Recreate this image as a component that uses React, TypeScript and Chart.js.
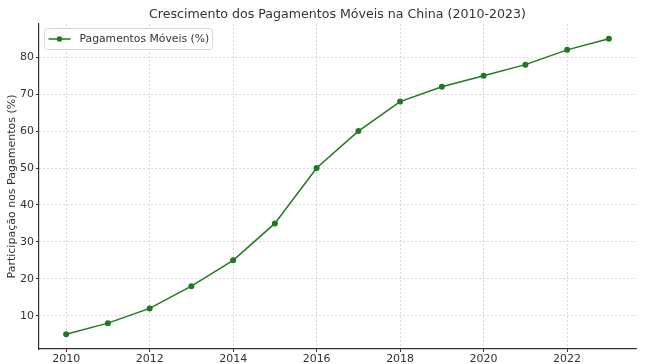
import React, { useEffect, useRef } from "react";
import { Chart, registerables } from "chart.js";

Chart.register(...registerables);

const years = [2010, 2011, 2012, 2013, 2014, 2015, 2016, 2017, 2018, 2019, 2020, 2021, 2022, 2023];
const shares = [5, 8, 12, 18, 25, 35, 50, 60, 68, 72, 75, 78, 82, 85];
const xTicks = [2010, 2012, 2014, 2016, 2018, 2020, 2022];
const yTicks = [10, 20, 30, 40, 50, 60, 70, 80];
const titleText = "Crescimento dos Pagamentos Móveis na China (2010-2023)";
const yAxisLabel = "Participação nos Pagamentos (%)";
const seriesLabel = "Pagamentos Móveis (%)";

const FONT = "'DejaVu Sans', sans-serif";
const GREEN = "#1f7a1f";

export default function App() {
  const ref = useRef<HTMLCanvasElement | null>(null);

  useEffect(() => {
    document.body.style.margin = "0";
    const canvas = ref.current;
    if (!canvas) return;

    const overlay = {
      id: "overlay",
      afterDraw(chart: any) {
        const ctx = chart.ctx;
        const area = chart.chartArea;
        ctx.save();
        // title
        ctx.fillStyle = "#333333";
        ctx.font = `12.6px ${FONT}`;
        ctx.textAlign = "center";
        ctx.textBaseline = "middle";
        ctx.fillText(titleText, (area.left + area.right) / 2, 14.5);
        // y label
        ctx.save();
        ctx.translate(12, (area.top + area.bottom) / 2);
        ctx.rotate(-Math.PI / 2);
        ctx.font = `11px ${FONT}`;
        ctx.fillText(yAxisLabel, 0, 0);
        ctx.restore();
        // legend
        const lx = 44.5, ly = 28.5, lw = 168, lh = 21;
        ctx.fillStyle = "rgba(255,255,255,0.85)";
        ctx.strokeStyle = "#d6d6d6";
        ctx.lineWidth = 1;
        ctx.beginPath();
        (ctx as any).roundRect(lx, ly, lw, lh, 3);
        ctx.fill();
        ctx.stroke();
        const cy = ly + lh / 2;
        ctx.strokeStyle = GREEN;
        ctx.lineWidth = 1.5;
        ctx.beginPath();
        ctx.moveTo(lx + 4, cy);
        ctx.lineTo(lx + 26, cy);
        ctx.stroke();
        ctx.fillStyle = GREEN;
        ctx.beginPath();
        ctx.arc(lx + 15, cy, 2.8, 0, Math.PI * 2);
        ctx.fill();
        ctx.fillStyle = "#333333";
        ctx.font = `10.8px ${FONT}`;
        ctx.textAlign = "left";
        ctx.fillText(seriesLabel, lx + 35, cy);
        ctx.restore();
      },
    };

    const chart = new Chart(canvas, {
      type: "line",
      data: {
        datasets: [
          {
            label: seriesLabel,
            data: years.map((y, i) => ({ x: y, y: shares[i] })),
            borderColor: GREEN,
            backgroundColor: GREEN,
            borderWidth: 1.5,
            pointRadius: 3,
            pointHoverRadius: 3,
            pointBorderWidth: 0,
            tension: 0,
          },
        ],
      },
      options: {
        responsive: false,
        animation: false,
        layout: { padding: { top: 24, right: 12, left: 0, bottom: 0 } },
        plugins: { legend: { display: false }, title: { display: false }, tooltip: { enabled: false } },
        scales: {
          x: {
            type: "linear",
            min: 2009.35,
            max: 2023.65,
            afterBuildTicks: (s: any) => {
              s.ticks = xTicks.map((v) => ({ value: v }));
            },
            afterFit: (s: any) => {
              s.height = 15;
            },
            ticks: {
              color: "#333333",
              font: { family: FONT, size: 11 },
              padding: 1,
              maxRotation: 0,
              callback: (v: any) => String(v),
            },
            grid: {
              color: "#cfcfcf",
              lineWidth: 0.8,
              tickColor: "#333333",
              tickLength: 3,
              tickWidth: 1,
              tickBorderDash: [],
            },
            border: { display: true, color: "#333333", width: 1.2, dash: [2, 2] },
          },
          y: {
            type: "linear",
            min: 1,
            max: 89,
            afterBuildTicks: (s: any) => {
              s.ticks = yTicks.map((v) => ({ value: v }));
            },
            afterFit: (s: any) => {
              s.width = 39;
            },
            ticks: {
              color: "#333333",
              font: { family: FONT, size: 11 },
              padding: 2,
              callback: (v: any) => String(v),
            },
            grid: {
              color: "#cfcfcf",
              lineWidth: 0.8,
              tickColor: "#333333",
              tickLength: 3,
              tickWidth: 1,
              tickBorderDash: [],
            },
            border: { display: true, color: "#333333", width: 1.2, dash: [2, 2] },
          },
        },
      },
      plugins: [overlay],
    } as any);

    return () => chart.destroy();
  }, []);

  return <canvas ref={ref} width={648} height={364} style={{ display: "block" }} />;
}
